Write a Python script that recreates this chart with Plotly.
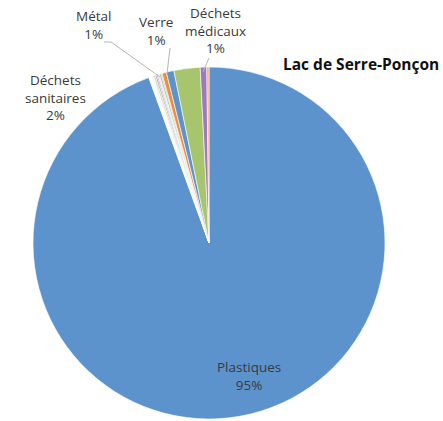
import plotly.graph_objects as go

# Categories in clockwise order starting at 12 o'clock
categories = ["Plastiques", "Autre A", "Autre B", "Autre C", "Autre D", "Autre E",
              "Autre F", "Autre G", "Autre H", "Métal", "Verre", "Déchets sanitaires",
              "Déchets médicaux", "Autre I"]
values = [94.45, 0.25, 0.2, 0.15, 0.15, 0.1, 0.15, 0.15, 0.1, 0.4, 0.7, 2.4, 0.6, 0.2]
colors = ["#5D93CD", "#ffffff", "#f2f2f2", "#c3d69b", "#b3a2c7", "#8e73ac", "#dce6f2",
          "#9bbb59", "#b7a6d0", "#E98F45", "#5D93CD", "#A6C56C", "#9B7BB8", "#F4A582"]

# Displayed labels
label_names = ["Plastiques", "Métal", "Verre", "Déchets<br>médicaux", "Déchets<br>sanitaires"]
label_pcts = ["95%", "1%", "1%", "1%", "2%"]
title_text = "Lac de Serre-Ponçon"

W, H = 443, 421
L, R, T, B = 33, 58, 67, 2
PW, PH = W - L - R, H - T - B


def px(x):
    return (x - L) / PW


def py(y):
    return (H - B - y) / PH


fig = go.Figure(go.Pie(
    labels=categories, values=values, sort=False, direction="clockwise",
    rotation=0, marker=dict(colors=colors, line=dict(color="white", width=0.6)),
    textinfo="none", hoverinfo="label+percent", showlegend=False,
))

label_pos = [(249, 376), (93, 25), (156, 31), (215, 31), (55, 97)]
font = dict(family="Open Sans, Liberation Sans, sans-serif", size=13.5, color="#3a3a3a")
for (x, y), n, p in zip(label_pos, label_names, label_pcts):
    fig.add_annotation(x=px(x), y=py(y), xref="paper", yref="paper",
                       text=f"{n}<br>{p}", showarrow=False, font=font,
                       xanchor="center", yanchor="middle", align="center")

line_style = dict(color="#b5b5b5", width=1)
leaders = [
    [(104, 42), (111, 42), (160, 77)],
    [(170, 48), (167, 74)],
    [(209, 58), (203, 72)],
]
for pts in leaders:
    for (x0, y0), (x1, y1) in zip(pts[:-1], pts[1:]):
        fig.add_shape(type="line", xref="paper", yref="paper",
                      x0=px(x0), y0=py(y0), x1=px(x1), y1=py(y1), line=line_style)

fig.add_annotation(x=px(361), y=py(64), xref="paper", yref="paper", text=f"<b>{title_text}</b>",
                   showarrow=False, xanchor="center", yanchor="middle",
                   font=dict(family="Open Sans, Liberation Sans, sans-serif", size=15.5, color="#111111"))

fig.update_layout(width=W, height=H, margin=dict(l=L, r=R, t=T, b=B),
                  paper_bgcolor="white", plot_bgcolor="white")
fig.write_html("out.html", config={"displayModeBar": False},
               post_script="document.body.style.margin='0';")
